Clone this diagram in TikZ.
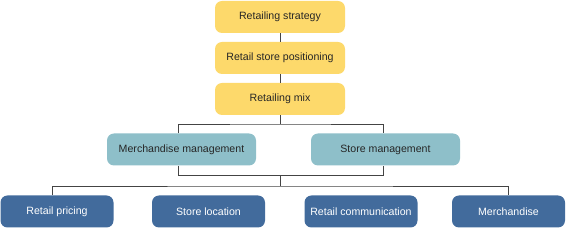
\documentclass[tikz,border=0pt]{standalone}
\usepackage{fontspec}
\setmainfont{Liberation Sans}
\begin{document}
\begin{tikzpicture}[x=1pt,y=-1pt,
  box/.style={rounded corners=7pt, minimum height=32pt, inner sep=0pt, font=\fontsize{10.6}{12}\selectfont},
  topbox/.style={box, fill=yellowc, minimum width=130pt, text=black!85},
  midbox/.style={box, fill=tealc, minimum width=149pt, text=black!85},
  botbox/.style={box, fill=bluec, minimum width=113pt, text=white},
  conn/.style={draw=linec, line width=0.9pt}]
\definecolor{yellowc}{HTML}{FDD96B}
\definecolor{tealc}{HTML}{8EBFC9}
\definecolor{bluec}{HTML}{426B9C}
\definecolor{linec}{HTML}{444444}
\useasboundingbox (0,0) rectangle (566,229);
\node[topbox] (rs) at (280,17) {Retailing strategy};
\node[topbox] (rp) at (280,58) {Retail store positioning};
\node[topbox] (rm) at (280,99) {Retailing mix};
\node[midbox] (mm) at (181.5,149.5) {Merchandise management};
\node[midbox] (sm) at (385.5,149.5) {Store management};
\node[botbox] (pr) at (57,211.5) {Retail pricing};
\node[botbox] (sl) at (208.5,211.5) {Store location};
\node[botbox] (rc) at (361,211.5) {Retail communication};
\node[botbox] (me) at (508.5,211.5) {Merchandise};
\coordinate (j1) at (280,124);
\coordinate (j2) at (280,175.5);
\coordinate (j3) at (280,186);
\draw[conn] (rs) -- (rp);
\draw[conn] (rp) -- (rm);
\draw[conn] (rm) -- (j1);
\draw[conn] (mm.north -| 178,0) |- (j1) -| (sm.north -| 383,0);
\draw[conn] (mm.south -| 178,0) |- (j2) -| (sm.south -| 383,0);
\draw[conn] (j2) -- (j3);
\draw[conn] (pr.north -| 52,0) |- (j3) -| (me.north -| 508,0);
\draw[conn] (sl.north -| 204,0) -- (sl.north -| 204,186);
\draw[conn] (rc.north -| 357,0) -- (rc.north -| 357,186);
\end{tikzpicture}
\end{document}
